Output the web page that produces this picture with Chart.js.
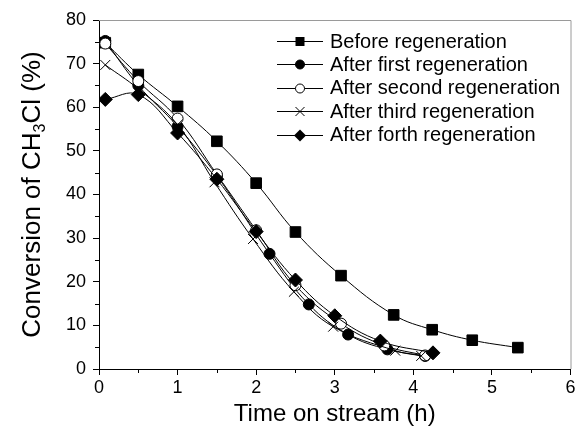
<!DOCTYPE html>
<html>
<head>
<meta charset="utf-8">
<script src="https://cdn.jsdelivr.net/npm/chart.js@4"></script>
<style>
  html, body { margin: 0; padding: 0; background: #fff; }
  #wrap { width: 579px; height: 441px; }
</style>
</head>
<body>
<div id="wrap"><canvas id="convChart" width="579" height="441"></canvas></div>
<script>
// Conversion of CH3Cl vs. time on stream, fresh and regenerated catalyst
const seriesNames = [
    "Before regeneration",
    "After first regeneration",
    "After second regeneration",
    "After third regeneration",
    "After forth regeneration"
];

const beforeX = [0.08, 0.5, 1.0, 1.5, 2.0, 2.5, 3.08, 3.75, 4.24, 4.75, 5.33];
const beforeY = [74.8, 67.5, 60.2, 52.2, 42.6, 31.4, 21.4, 12.4, 9.0, 6.6, 4.9];

const firstX = [0.08, 0.5, 1.0, 1.5, 2.17, 2.67, 3.17, 3.67, 4.15];
const firstY = [75.2, 65.0, 55.6, 44.3, 26.4, 14.8, 7.9, 4.5, 3.0];

const secondX = [0.08, 0.5, 1.0, 1.5, 2.0, 2.5, 3.08, 3.63, 4.15];
const secondY = [74.6, 66.0, 57.4, 44.6, 31.8, 19.2, 10.4, 5.4, 3.1];

const thirdX = [0.08, 0.5, 1.0, 1.47, 1.96, 2.48, 2.98, 3.77, 4.1];
const thirdY = [69.7, 64.2, 56.0, 42.8, 29.8, 17.7, 9.7, 4.2, 3.0];

const forthX = [0.08, 0.5, 1.0, 1.5, 2.0, 2.5, 3.0, 3.58, 4.25];
const forthY = [61.8, 62.9, 54.1, 43.5, 31.5, 20.4, 12.2, 6.4, 3.7];

const xTicks = [0, 1, 2, 3, 4, 5, 6];
const yTicks = [0, 10, 20, 30, 40, 50, 60, 70, 80];

const FONT = "Arial, 'Liberation Sans', sans-serif";

function pairs(xs, ys) {
    return xs.map((x, i) => ({ x: x, y: ys[i] }));
}

// marker look per series: [pointStyle, radius, fill]
const markers = [
    ["rect", 7.5, "#000"],
    ["circle", 5.5, "#000"],
    ["circle", 5.5, "#fff"],
    ["crossRot", 7, "#000"],
    ["rectRot", 7, "#000"]
];
// lower value is painted on top
const drawOrder = [5, 4, 3, 2, 1];

const allData = [
    pairs(beforeX, beforeY),
    pairs(firstX, firstY),
    pairs(secondX, secondY),
    pairs(thirdX, thirdY),
    pairs(forthX, forthY)
];

const datasets = allData.map((d, i) => ({
    label: seriesNames[i],
    data: d,
    order: drawOrder[i],
    borderColor: "#000",
    borderWidth: 1,
    tension: 0.4,
    pointStyle: markers[i][0],
    pointRadius: markers[i][1],
    pointBackgroundColor: markers[i][2],
    pointBorderColor: "#000",
    pointBorderWidth: 1,
    fill: false
}));

// small legend marker, drawn by hand so it can sit inside the plot
function legendMarker(ctx, style, x, y, fill) {
    ctx.save();
    ctx.fillStyle = fill;
    ctx.strokeStyle = "#000";
    ctx.lineWidth = 1;
    ctx.beginPath();
    if (style === "rect") {
        ctx.rect(x - 4.5, y - 4.5, 9, 9);
        ctx.fill();
    } else if (style === "circle") {
        ctx.arc(x, y, 4.5, 0, Math.PI * 2);
        ctx.fill();
        ctx.stroke();
    } else if (style === "crossRot") {
        ctx.moveTo(x - 4.5, y - 4.5); ctx.lineTo(x + 4.5, y + 4.5);
        ctx.moveTo(x + 4.5, y - 4.5); ctx.lineTo(x - 4.5, y + 4.5);
        ctx.stroke();
    } else if (style === "rectRot") {
        ctx.moveTo(x, y - 6); ctx.lineTo(x + 6, y); ctx.lineTo(x, y + 6); ctx.lineTo(x - 6, y);
        ctx.closePath();
        ctx.fill();
    }
    ctx.restore();
}

const decorPlugin = {
    id: "decor",
    afterDraw(chart) {
        const ctx = chart.ctx;
        const area = chart.chartArea;
        const xs = chart.scales.x;
        const ys = chart.scales.y;
        ctx.save();

        // grey frame on top and right
        ctx.strokeStyle = "#9a9a9a";
        ctx.lineWidth = 1;
        ctx.beginPath();
        ctx.moveTo(area.left, area.top + 0.5);
        ctx.lineTo(area.right + 0.5, area.top + 0.5);
        ctx.lineTo(area.right + 0.5, area.bottom);
        ctx.stroke();

        // minor ticks
        ctx.strokeStyle = "#000";
        ctx.beginPath();
        for (let v = 0.5; v < 6; v += 1) {
            const px = Math.round(xs.getPixelForValue(v)) + 0.5;
            ctx.moveTo(px, area.bottom);
            ctx.lineTo(px, area.bottom + 4);
        }
        for (let v = 5; v < 80; v += 10) {
            const py = Math.round(ys.getPixelForValue(v)) + 0.5;
            ctx.moveTo(area.left, py);
            ctx.lineTo(area.left - 4, py);
        }
        ctx.stroke();

        // axis titles
        ctx.fillStyle = "#000";
        ctx.font = "24px " + FONT;
        ctx.textAlign = "center";
        ctx.textBaseline = "middle";
        ctx.fillText("Time on stream (h)", (area.left + area.right) / 2, 414);

        ctx.save();
        ctx.translate(30, (area.top + area.bottom) / 2);
        ctx.rotate(-Math.PI / 2);
        const a = "Conversion of CH", sub = "3", b = "Cl (%)";
        ctx.font = "26px " + FONT;
        const wa = ctx.measureText(a).width;
        const wb = ctx.measureText(b).width;
        ctx.font = "16px " + FONT;
        const ws = ctx.measureText(sub).width;
        let sx = -(wa + ws + wb) / 2;
        ctx.textAlign = "left";
        ctx.textBaseline = "alphabetic";
        ctx.font = "26px " + FONT;
        ctx.fillText(a, sx, 10);
        ctx.font = "16px " + FONT;
        ctx.fillText(sub, sx + wa, 15);
        ctx.font = "26px " + FONT;
        ctx.fillText(b, sx + wa + ws, 10);
        ctx.restore();

        // legend
        ctx.font = "20px " + FONT;
        ctx.textAlign = "left";
        ctx.textBaseline = "middle";
        seriesNames.forEach((name, i) => {
            const y = 41 + i * 23.4;
            ctx.strokeStyle = "#000";
            ctx.beginPath();
            ctx.moveTo(277, Math.round(y) + 0.5);
            ctx.lineTo(323, Math.round(y) + 0.5);
            ctx.stroke();
            legendMarker(ctx, markers[i][0], 300, Math.round(y) + 0.5, markers[i][2]);
            ctx.fillStyle = "#000";
            ctx.fillText(name, 330, y + 1);
        });

        ctx.restore();
    }
};

new Chart(document.getElementById("convChart"), {
    type: "line",
    data: { datasets: datasets },
    plugins: [decorPlugin],
    options: {
        responsive: false,
        animation: false,
        layout: { padding: { top: 20, right: 7, left: 0, bottom: 0 } },
        plugins: { legend: { display: false }, tooltip: { enabled: false } },
        scales: {
            x: {
                type: "linear",
                min: 0,
                max: 6,
                afterBuildTicks: s => { s.ticks = xTicks.map(v => ({ value: v })); },
                afterFit: s => { s.height = 72; },
                border: { display: true, color: "#000", width: 1 },
                grid: { drawOnChartArea: false, drawTicks: true, tickLength: 6, color: "#000" },
                ticks: { color: "#000", font: { family: FONT, size: 18 }, padding: 2, maxRotation: 0 }
            },
            y: {
                type: "linear",
                min: 0,
                max: 80,
                afterBuildTicks: s => { s.ticks = yTicks.map(v => ({ value: v })); },
                afterFit: s => { s.width = 99; },
                border: { display: true, color: "#000", width: 1 },
                grid: { drawOnChartArea: false, drawTicks: true, tickLength: 6, color: "#000" },
                ticks: { color: "#000", font: { family: FONT, size: 18 }, padding: 7 }
            }
        }
    }
});
</script>
</body>
</html>
